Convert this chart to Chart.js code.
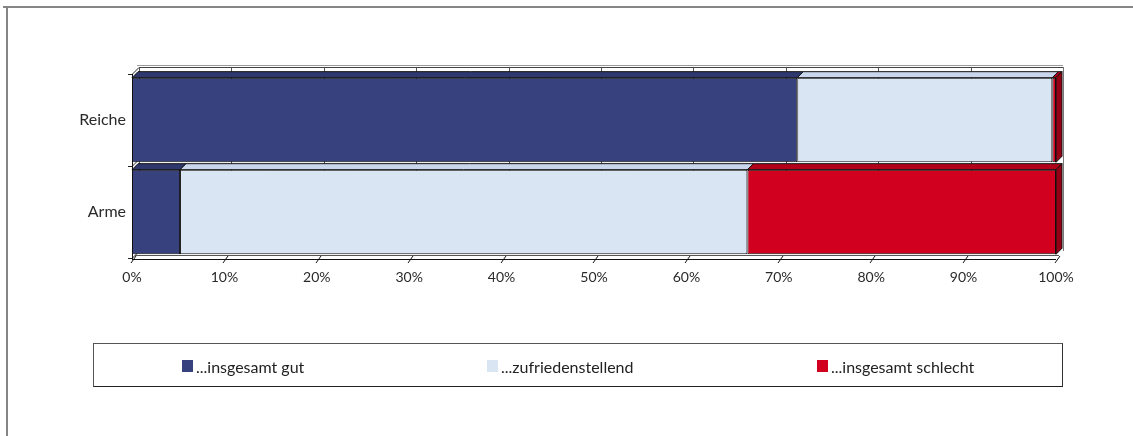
<!DOCTYPE html>
<html>
<head>
<meta charset="utf-8">
<script src="https://cdn.jsdelivr.net/npm/chart.js@4/dist/chart.umd.min.js"></script>
<style>
  html, body { margin: 0; padding: 0; background: #fff; }
  #wrap { position: relative; width: 1133px; height: 436px; overflow: hidden; font-family: Lato, "Open Sans", sans-serif; }
  #c { position: absolute; left: 0; top: 0; }
  .frameTop { position: absolute; left: 3px; top: 6px; width: 1130px; height: 2px; background: #858585; }
  .frameLeft { position: absolute; left: 6px; top: 7px; width: 2px; height: 429px; background: #858585; }
  #legend { position: absolute; left: 93px; top: 343px; width: 970px; height: 44px; box-sizing: border-box;
            border: 1px solid #555; border-right-color: #333; border-bottom-color: #222; }
  .item { position: absolute; top: 14px; height: 16px; display: flex; align-items: center; font-size: 16px; color: #222; white-space: nowrap; }
  .sw { width: 11px; height: 12px; margin-right: 3px; }
</style>
</head>
<body>
<div id="wrap">
  <canvas id="c" width="1133" height="436"></canvas>
  <div class="frameTop"></div>
  <div class="frameLeft"></div>
  <div id="legend"></div>
</div>
<script>
// ---- data ----
const categories = ['Reiche', 'Arme'];
const seriesNames = ['...insgesamt gut', '...zufriedenstellend', '...insgesamt schlecht'];
const gut = [72.0, 5.2];
const zufrieden = [27.6, 61.4];
const schlecht = [0.4, 33.4];
const xTickValues = [0, 10, 20, 30, 40, 50, 60, 70, 80, 90, 100];

// ---- styles ----
const frontColors = ['#36417D', '#DAE5F4', '#D2001F'];
const topColors   = ['#2E386F', '#C9D6EC', '#B3001A'];
const sideColors  = ['#262E5C', '#B5C4DE', '#930014'];
const legendLefts = [88, 393, 723];
const D = 7;   // back wall depth
const d = 6;   // bar depth

const seriesValues = [gut, zufrieden, schlecht];

// legend (HTML, real text)
const legend = document.getElementById('legend');
seriesNames.forEach((name, i) => {
  const it = document.createElement('div');
  it.className = 'item';
  it.style.left = legendLefts[i] + 'px';
  const sw = document.createElement('span');
  sw.className = 'sw';
  sw.style.background = frontColors[i];
  const tx = document.createElement('span');
  tx.textContent = name;
  it.appendChild(sw); it.appendChild(tx);
  legend.appendChild(it);
});

const wallPlugin = {
  id: 'wall3d',
  beforeDatasetsDraw(chart) {
    const ctx = chart.ctx, a = chart.chartArea, xs = chart.scales.x;
    ctx.save();
    ctx.strokeStyle = '#555';
    ctx.lineWidth = 1;
    xTickValues.forEach(v => {
      const x = Math.round(xs.getPixelForValue(v)) + D + 0.5;
      ctx.beginPath();
      ctx.moveTo(x, a.top - D);
      ctx.lineTo(x, a.bottom - D);
      ctx.stroke();
    });
    ctx.strokeStyle = '#9a9a9a';
    ctx.beginPath();
    ctx.moveTo(a.left + D - 2, a.top - D - 1.5);
    ctx.lineTo(a.right + D, a.top - D - 1.5);
    ctx.stroke();
    ctx.strokeStyle = '#444';
    ctx.beginPath();
    ctx.moveTo(a.left + D, a.top - D + 0.5);
    ctx.lineTo(a.right + D, a.top - D + 0.5);
    ctx.stroke();
    ctx.strokeStyle = '#777';
    ctx.beginPath();
    ctx.moveTo(a.right + D + 0.5, a.top - D);
    ctx.lineTo(a.right + D + 0.5, a.bottom - D);
    ctx.stroke();
    ctx.strokeStyle = '#222';
    const n = categories.length;
    for (let k = 0; k <= n; k++) {
      const y = a.top + (a.bottom - a.top) * k / n;
      ctx.beginPath();
      ctx.moveTo(a.left, Math.round(y) + 0.5);
      ctx.lineTo(a.left + D, Math.round(y) - D + 0.5);
      ctx.stroke();
      ctx.beginPath();
      ctx.moveTo(a.left - 4, Math.round(y) + 0.5);
      ctx.lineTo(a.left, Math.round(y) + 0.5);
      ctx.stroke();
    }
    ctx.restore();
  },
  afterDatasetsDraw(chart) {
    const ctx = chart.ctx, a = chart.chartArea, xs = chart.scales.x;
    ctx.save();
    ctx.lineWidth = 1;
    ctx.strokeStyle = '#111';
    const nds = chart.data.datasets.length;
    categories.forEach((c, i) => {
      for (let j = 0; j < nds; j++) {
        const el = chart.getDatasetMeta(j).data[i];
        const p = el.getProps(['x', 'y', 'base', 'height'], true);
        const x0 = Math.min(p.x, p.base), x1 = Math.max(p.x, p.base);
        const top = p.y - p.height / 2, bot = p.y + p.height / 2;
        ctx.fillStyle = topColors[j];
        ctx.beginPath();
        ctx.moveTo(x0, top);
        ctx.lineTo(x1, top);
        ctx.lineTo(x1 + d, top - d);
        ctx.lineTo(x0 + d, top - d);
        ctx.closePath();
        ctx.fill();
        ctx.stroke();
        if (j === nds - 1) {
          ctx.fillStyle = sideColors[j];
          ctx.beginPath();
          ctx.moveTo(x1, top);
          ctx.lineTo(x1 + d, top - d);
          ctx.lineTo(x1 + d, bot - d);
          ctx.lineTo(x1, bot);
          ctx.closePath();
          ctx.fill();
          ctx.stroke();
        }
      }
    });
    ctx.strokeStyle = '#111';
    ctx.beginPath();
    ctx.moveTo(a.left + 0.5, a.top);
    ctx.lineTo(a.left + 0.5, a.bottom + 1);
    ctx.stroke();
    ctx.beginPath();
    ctx.moveTo(a.left, a.bottom + 1.5);
    ctx.lineTo(a.right, a.bottom + 1.5);
    ctx.stroke();
    ctx.strokeStyle = '#555';
    ctx.beginPath();
    ctx.moveTo(a.left + 3, a.bottom - 2.5);
    ctx.lineTo(a.right + 3, a.bottom - 2.5);
    ctx.stroke();
    ctx.strokeStyle = '#111';
    xTickValues.forEach(v => {
      const x = Math.round(xs.getPixelForValue(v));
      ctx.beginPath();
      ctx.moveTo(x - 1, a.bottom + 5);
      ctx.lineTo(x + 4, a.bottom - 2);
      ctx.stroke();
    });
    ctx.restore();
  }
};

new Chart(document.getElementById('c'), {
  type: 'bar',
  data: {
    labels: categories,
    datasets: seriesNames.map((name, i) => ({
      label: name,
      data: seriesValues[i],
      backgroundColor: frontColors[i],
      borderColor: '#111',
      borderWidth: 1,
      borderSkipped: false,
      barPercentage: 0.92,
      categoryPercentage: 1.0
    }))
  },
  options: {
    indexAxis: 'y',
    responsive: false,
    animation: false,
    devicePixelRatio: 1,
    layout: { padding: { top: 74, bottom: 148, left: 0, right: 77 } },
    plugins: { legend: { display: false }, tooltip: { enabled: false } },
    scales: {
      x: {
        stacked: true,
        min: 0, max: 100,
        grid: { display: false, drawTicks: false },
        border: { display: false },
        afterFit: s => { s.height = 30; },
        afterBuildTicks: s => { s.ticks = xTickValues.map(v => ({ value: v })); },
        ticks: {
          padding: 11,
          color: '#2a2a2a',
          font: { family: 'Lato', size: 14 },
          callback: v => v + '%',
          maxRotation: 0,
          autoSkip: false
        }
      },
      y: {
        stacked: true,
        grid: { display: false, drawTicks: false },
        border: { display: false },
        afterFit: s => { s.width = 132; },
        ticks: {
          padding: 6,
          color: '#2a2a2a',
          font: { family: 'Lato', size: 16 }
        }
      }
    }
  },
  plugins: [wallPlugin]
});
</script>
</body>
</html>
